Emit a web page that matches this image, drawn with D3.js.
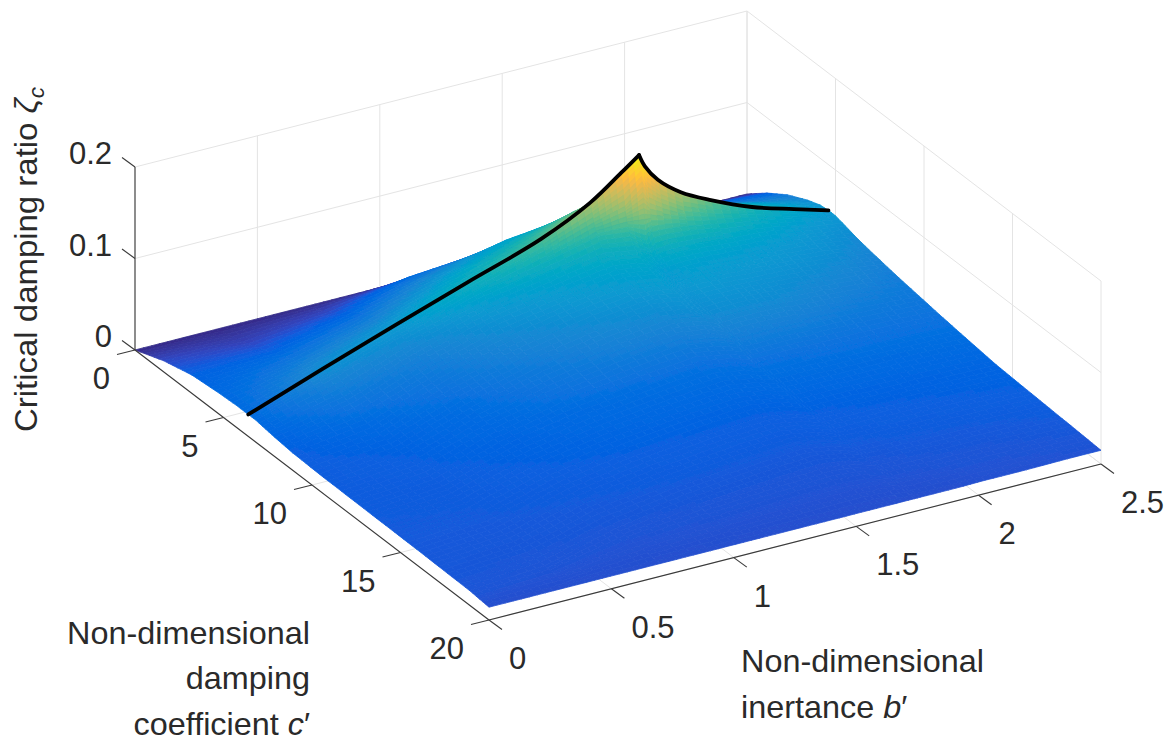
<!DOCTYPE html>
<html><head><meta charset="utf-8">
<script src="https://cdn.jsdelivr.net/npm/d3@7"></script>
<style>html,body{margin:0;background:#fff}svg{display:block}text{font-family:"Liberation Sans",Arial,sans-serif;fill:#2a2a2a}</style>
</head><body><div id="chart"></div>
<script>
const bTicks=[0,0.5,1,1.5,2,2.5];
const cTicks=[0,5,10,15,20];
const zTicks=[0,0.1,0.2];
// surface sample columns (inertance b')
const bColumns=[0,0.33,0.7,1.04,1.37,1.585,1.69,1.738,1.762,1.814,1.908,2.027,2.195,2.363,2.5];
// crest (black curve): damping coefficient and critical damping ratio per column
const crestC=[6.4,6.08,5,4.4,4,3.8,4.1,4.44,4.44,4.45,4.45,4.5,4.5,4.55,4.6];
const crestZ=[0.024,0.047,0.053,0.068,0.087,0.109,0.139,0.16,0.146,0.128,0.108,0.092,0.073,0.06,0.05];
// rows behind the crest: fraction of crest c
const backFractions=[0,0.25,0.5,0.75,0.9];
const zBack=[
[0,0.012,0.02,0.023,0.024],
[0,0.009,0.02,0.033,0.042],
[0,0.012,0.025,0.039,0.048],
[0,0.025,0.042,0.056,0.063],
[0,0.03,0.056,0.072,0.081],
[0,0.03,0.06,0.085,0.098],
[0,0.03,0.06,0.095,0.12],
[0,0.03,0.06,0.1,0.135],
[0,0.03,0.06,0.095,0.125],
[0,0.03,0.058,0.09,0.113],
[0,0.028,0.052,0.08,0.097],
[0,0.026,0.048,0.07,0.084],
[0,0.022,0.042,0.06,0.069],
[0,0.02,0.035,0.05,0.057],
[0,0.018,0.033,0.044,0.049]];
// rows in front of the crest: c = crest c + offset; the last row is c = 20
const frontOffsets=[0.2,0.4,0.8,1.5,2.5,4,6.5,9.5,12.5];
const zFront=[
[0.024,0.024,0.023,0.021,0.019,0.018,0.0175,0.017,0.016,0.014],
[0.044,0.04,0.036,0.03,0.024,0.02,0.018,0.017,0.0158,0.014],
[0.05,0.047,0.043,0.037,0.032,0.026,0.021,0.018,0.016,0.014],
[0.063,0.059,0.053,0.048,0.042,0.034,0.0245,0.019,0.0165,0.014],
[0.077,0.069,0.06,0.054,0.049,0.041,0.0265,0.0195,0.0165,0.014],
[0.09,0.078,0.066,0.058,0.052,0.044,0.0275,0.0195,0.0165,0.014],
[0.105,0.08,0.066,0.058,0.053,0.045,0.0275,0.0195,0.0165,0.014],
[0.128,0.072,0.06,0.053,0.05,0.044,0.0275,0.0195,0.0165,0.014],
[0.115,0.08,0.062,0.054,0.051,0.044,0.0275,0.0195,0.0165,0.014],
[0.105,0.08,0.064,0.056,0.052,0.045,0.0275,0.0195,0.0165,0.014],
[0.09,0.077,0.063,0.055,0.051,0.045,0.028,0.02,0.017,0.014],
[0.08,0.072,0.061,0.054,0.05,0.044,0.028,0.02,0.017,0.0145],
[0.068,0.064,0.058,0.052,0.048,0.041,0.028,0.0205,0.0172,0.0145],
[0.058,0.056,0.052,0.049,0.045,0.038,0.028,0.021,0.0175,0.015],
[0.05,0.05,0.048,0.044,0.04,0.035,0.028,0.021,0.018,0.015]];
const zColorMax=0.16;
const parula=[[.2081,.1663,.5292],[.2116,.1898,.5777],[.2123,.2138,.627],[.2081,.2386,.6771],[.1959,.2645,.7279],[.1707,.2919,.7792],[.1253,.3242,.8303],[.0591,.3598,.8683],[.0117,.3875,.882],[.006,.4086,.8828],[.0165,.4266,.8786],[.0329,.443,.872],[.0498,.4586,.8641],[.0629,.4737,.8554],[.0723,.4887,.8467],[.0779,.504,.8384],[.0793,.52,.8312],[.0749,.5375,.8263],[.0641,.557,.824],[.0488,.5772,.8228],[.0343,.5966,.8199],[.0265,.6137,.8135],[.0239,.6287,.8038],[.0231,.6418,.7913],[.0228,.6535,.7768],[.0267,.6642,.7607],[.0384,.6743,.7436],[.059,.6838,.7254],[.0843,.6928,.7062],[.1133,.7015,.6859],[.1453,.7098,.6646],[.1801,.7177,.6424],[.2178,.725,.6193],[.2586,.7317,.5954],[.3022,.7376,.5712],[.3482,.7424,.5473],[.3953,.7459,.5244],[.442,.7481,.5033],[.4871,.7491,.484],[.53,.7491,.4661],[.5709,.7485,.4494],[.6099,.7473,.4337],[.6473,.7456,.4188],[.6834,.7435,.4044],[.7184,.7411,.3905],[.7525,.7384,.3768],[.7858,.7356,.3633],[.8185,.7327,.3498],[.8507,.7299,.336],[.8824,.7274,.3217],[.9139,.7258,.3063],[.945,.7261,.2886],[.9739,.7314,.2666],[.9938,.7455,.2403],[.999,.7653,.2164],[.9955,.7861,.1967],[.988,.8066,.1794],[.9789,.8271,.1633],[.9697,.8481,.1475],[.9626,.8705,.1309],[.9589,.8949,.1132],[.9598,.9218,.0948],[.9661,.9514,.0755],[.9763,.9831,.0538]];

const W=1173,H=744;
const ox=135,oy=350;
const bx=d3.scaleLinear([0,2.5],[0,612]), by=d3.scaleLinear([0,2.5],[0,-156]);
const cx=d3.scaleLinear([0,20],[0,354]), cy=d3.scaleLinear([0,20],[0,270]);
const zy=d3.scaleLinear([0,0.2],[0,-183]);
const P=(b,c,z)=>[ox+bx(b)+cx(c), oy+by(b)+cy(c)+zy(z)];
const color=d3.scaleLinear()
  .domain(parula.map((d,i)=>i/(parula.length-1)*zColorMax))
  .range(parula.map(d=>d3.rgb(d[0]*255,d[1]*255,d[2]*255).formatHex()))
  .interpolate(d3.interpolateRgb).clamp(true);

const svg=d3.select('#chart').append('svg').attr('width',W).attr('height',H);
svg.append('defs').append('filter').attr('id','soft').attr('filterUnits','userSpaceOnUse')
  .attr('x',0).attr('y',0).attr('width',W).attr('height',H)
  .append('feGaussianBlur').attr('stdDeviation',0.5);
const line=(a,b)=>`M${a[0]},${a[1]}L${b[0]},${b[1]}`;

// walls and floor grid
const grid=svg.append('g').attr('fill','none').attr('stroke','#e4e4e4').attr('stroke-width',1);
const gl=(a,b)=>grid.append('path').attr('d',line(a,b));
bTicks.forEach(b=>{gl(P(b,0,0),P(b,0,0.2));gl(P(b,0,0),P(b,20,0));});
cTicks.forEach(c=>{gl(P(2.5,c,0),P(2.5,c,0.2));gl(P(0,c,0),P(2.5,c,0));});
zTicks.forEach(z=>{gl(P(0,0,z),P(2.5,0,z));gl(P(2.5,0,z),P(2.5,20,z));});

// surface grid
const zGrid=bColumns.map((b,i)=>[...zBack[i],crestZ[i],...zFront[i]]);
const cGrid=bColumns.map((b,i)=>[
  ...backFractions.map(f=>f*crestC[i]),crestC[i],
  ...frontOffsets.map(o=>crestC[i]+o),20]);
const cells=[];
for(let i=bColumns.length-2;i>=0;i--){
  for(let j=0;j<zGrid[0].length-1;j++){
    const corner=(ii,jj)=>({b:bColumns[ii],c:cGrid[ii][jj],z:zGrid[ii][jj]});
    const q=[corner(i,j),corner(i+1,j),corner(i+1,j+1),corner(i,j+1)];
    const pts=q.map(d=>P(d.b,d.c,d.z));
    const len=(a,b)=>Math.hypot(a[0]-b[0],a[1]-b[1]);
    const nb=Math.max(2,Math.ceil(Math.max(len(pts[0],pts[1]),len(pts[3],pts[2]))/9));
    const nc=Math.max(2,Math.ceil(Math.max(len(pts[0],pts[3]),len(pts[1],pts[2]))/6));
    const at=(u,v)=>{
      const mix=k=>(q[0][k]*(1-u)+q[1][k]*u)*(1-v)+(q[3][k]*(1-u)+q[2][k]*u)*v;
      return {b:mix('b'),c:mix('c'),z:mix('z')};
    };
    for(let ub=nb-1;ub>=0;ub--)for(let vc=0;vc<nc;vc++){
      const u0=ub/nb,u1=(ub+1)/nb,v0=vc/nc,v1=(vc+1)/nc;
      const s=[at(u0,v0),at(u1,v0),at(u1,v1),at(u0,v1)];
      cells.push({d:'M'+s.map(p=>P(p.b,p.c,p.z).map(x=>x.toFixed(1)).join(',')).join('L')+'Z',z:d3.mean(s,p=>p.z)});
    }
  }
}
svg.append('g').attr('filter','url(#soft)').selectAll('path').data(cells).join('path')
  .attr('d',d=>d.d).attr('fill',d=>color(d.z)).attr('stroke',d=>color(d.z)).attr('stroke-width',0.8).attr('stroke-linejoin','round');

// crest curve
const peak=crestZ.indexOf(d3.max(crestZ));
const crest=bColumns.map((b,i)=>P(b,crestC[i],crestZ[i]));
const crestLine=d3.line().curve(d3.curveCatmullRom.alpha(0.5));
[crest.slice(0,peak+1),crest.slice(peak)].forEach(seg=>
  svg.append('path').attr('d',crestLine(seg)).attr('fill','none').attr('stroke','#000').attr('stroke-width',3.8).attr('stroke-linecap','round').attr('stroke-linejoin','miter'));

// axes
const ax=svg.append('g').attr('fill','none').attr('stroke','#3a3a3a').attr('stroke-width',1.1);
const al=(a,b)=>ax.append('path').attr('d',line(a,b));
al(P(0,0,0),P(0,0,0.2)); al(P(0,0,0),P(0,20,0)); al(P(0,20,0),P(2.5,20,0));
const tk=(p,dx,dy)=>al(p,[p[0]+dx,p[1]+dy]);
const FS=31;
const label=(x,y,t,anchor)=>svg.append('text').attr('transform',`translate(${x},${y})`).attr('text-anchor',anchor).attr('font-size',FS).text(t);
zTicks.forEach(z=>{const p=P(0,0,z);tk(p,-13,-9.5);label(p[0]-23,p[1]-3,String(z),'end');});
cTicks.forEach(c=>{const p=P(0,c,0);tk(p,-18,4.5);label(p[0]-25,p[1]+39,String(c),'end');});
bTicks.forEach(b=>{const p=P(b,20,0);tk(p,13,9.5);label(p[0]+20,p[1]+49,String(b),'start');});

// axis titles
const rich=(x,y,parts,anchor)=>{const t=svg.append('text').attr('transform',`translate(${x},${y}) scale(1.045,1)`).attr('text-anchor',anchor).attr('font-size',FS);
  parts.forEach(p=>t.append('tspan').attr('font-style',p[1]?'italic':null).text(p[0]));};
rich(310,644,[['Non-dimensional',0]],'end');
rich(310,689,[['damping',0]],'end');
rich(310,735,[['coefficient ',0],['c',1],['′',0]],'end');
rich(741,672,[['Non-dimensional',0]],'start');
rich(741,718,[['inertance ',0],['b',1],['′',0]],'start');
const yl=svg.append('text').attr('transform','translate(37,432) rotate(-90) scale(1.03,1)').attr('font-size',32);
yl.append('tspan').text('Critical damping ratio ');
yl.append('tspan').attr('font-style','italic').text('ζ');
yl.append('tspan').attr('font-style','italic').attr('font-size',22).attr('dy',7).text('c');
</script></body></html>
